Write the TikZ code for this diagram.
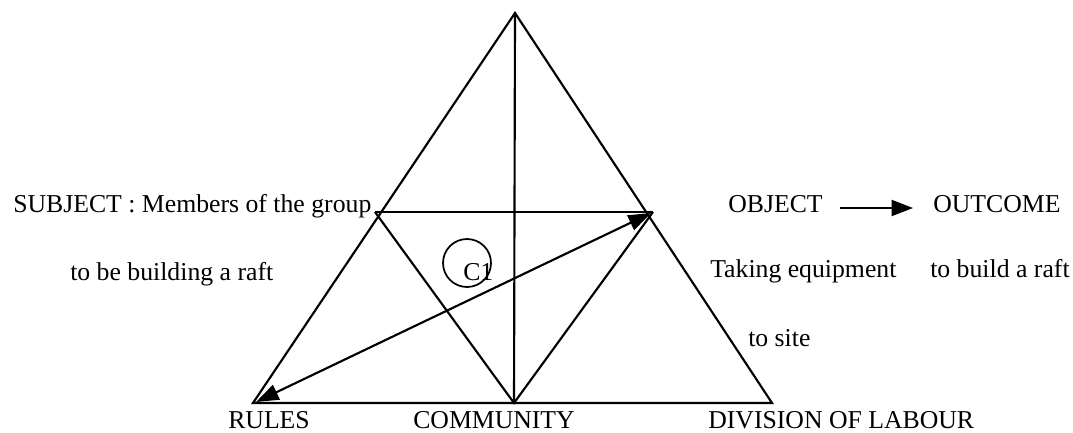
\documentclass[tikz,border=0pt]{standalone}
\usepackage{fontspec}
\setmainfont{Liberation Serif}
\usetikzlibrary{arrows.meta}
\begin{document}
\begin{tikzpicture}[x=0.75pt,y=-0.75pt,
  ln/.style={line width=1.6pt},
  lbl/.style={inner sep=0pt,anchor=base west,font=\fontsize{19.3}{22}\selectfont},
  dbl/.style={{Triangle[length=17pt,width=12pt]}-{Triangle[length=17pt,width=12pt]}}]
\useasboundingbox (0,0) rectangle (1073,432);
\coordinate (A) at (515,13);
\coordinate (L) at (253,403);
\coordinate (R) at (772,403);
\coordinate (M) at (514,403);
\coordinate (P) at (375,212);
\coordinate (Q) at (653,212);
\coordinate (La) at (256,402);
\coordinate (Qa) at (651,213);
\draw[ln] (L) -- (A) -- (R) -- cycle;
\draw[ln] (P) -- (Q);
\draw[ln] (P) -- (M) -- (Q);
\draw[ln] (A) -- (M);
\draw[ln,dbl] (La) -- (Qa);
\node[draw,circle,line width=1.3pt,minimum size=36pt,inner sep=0pt] (c) at (467,263) {};
\node[lbl] (c1) at (463,280) {C1};
\node[lbl] (subj) at (13,212) {SUBJECT : Members of the group};
\node[lbl] (subj2) at (70,280) {to be building a raft};
\node[lbl] (obj) at (728,212) {OBJECT};
\node[lbl] (out) at (933,212) {OUTCOME};
\coordinate (o1) at (840,208);
\coordinate (o2) at (913,208);
\draw[line width=1.4pt,-{Triangle[length=16pt,width=12pt]}] (o1) -- (o2);
\node[lbl] (take) at (710,277) {Taking equipment};
\node[lbl] (build) at (930,277) {to build a raft};
\node[lbl] (site) at (748,346) {to site};
\node[lbl] (rules) at (228,428) {RULES};
\node[lbl] (comm) at (413,428) {COMMUNITY};
\node[lbl] (div) at (708,428) {DIVISION OF LABOUR};
\end{tikzpicture}
\end{document}
